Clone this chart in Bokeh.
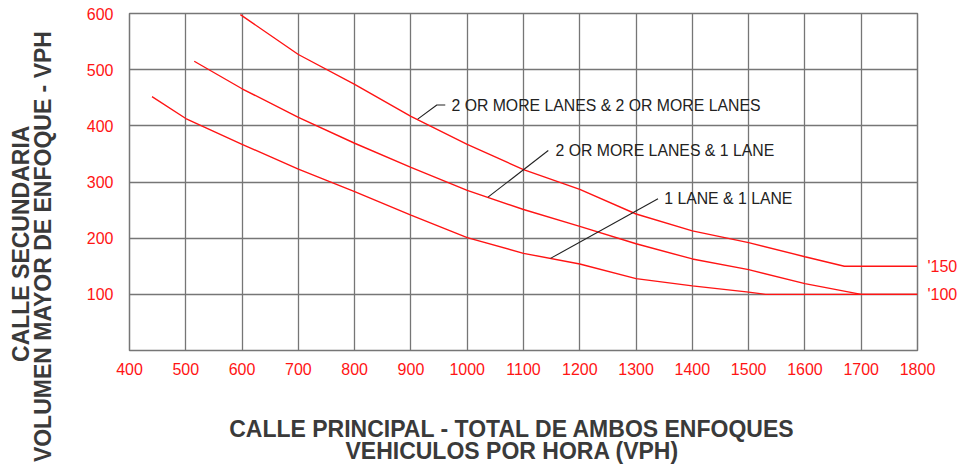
from bokeh.plotting import figure
from bokeh.models import Range1d, FixedTicker, LinearAxis, Label
from bokeh.embed import file_html
from bokeh.resources import INLINE

# ---- data ----
x_ticks = [400, 500, 600, 700, 800, 900, 1000, 1100, 1200, 1300, 1400, 1500, 1600, 1700, 1800]
y_ticks = [100, 200, 300, 400, 500, 600]

# 2 OR MORE LANES & 2 OR MORE LANES
top_x = [597, 700, 800, 900, 1000, 1100, 1200, 1300, 1400, 1500, 1600, 1670, 1800]
top_y = [598, 527, 474, 417, 367, 322, 287, 243, 213, 192, 167, 150, 150]

# 2 OR MORE LANES & 1 LANE
mid_x = [515, 600, 700, 800, 900, 1000, 1100, 1200, 1300, 1400, 1500, 1600, 1700, 1800]
mid_y = [515, 466, 415, 369, 326, 285, 251, 221, 190, 163, 144, 119, 100, 100]

# 1 LANE & 1 LANE
low_x = [440, 500, 600, 700, 800, 900, 1000, 1100, 1200, 1300, 1400, 1500, 1530, 1800]
low_y = [452, 413, 367, 323, 283, 241, 201, 173, 154, 128, 115, 104, 100, 100]

series_labels = ["2 OR MORE LANES & 2 OR MORE LANES", "2 OR MORE LANES & 1 LANE", "1 LANE & 1 LANE"]
end_values = [100, 150]
end_labels = ["'100", "'150"]

x_title = ["CALLE PRINCIPAL - TOTAL DE AMBOS ENFOQUES", "VEHICULOS POR HORA (VPH)"]
y_title = ["CALLE SECUNDARIA", "VOLUMEN MAYOR DE ENFOQUE - VPH"]

RED = "#ff1414"
GRID = "#767676"
DARK = "#3a3a3a"
FONT = "Liberation Sans"

p = figure(width=963, height=468, x_range=Range1d(400, 1800), y_range=Range1d(0, 600),
           output_backend="svg", toolbar_location=None,
           min_border_left=129, min_border_right=46, min_border_top=13, min_border_bottom=118)

p.background_fill_color = "white"
p.border_fill_color = "white"
p.outline_line_color = GRID
p.outline_line_width = 1.5

p.xaxis.ticker = FixedTicker(ticks=x_ticks)
p.yaxis.ticker = FixedTicker(ticks=y_ticks)
p.xgrid.ticker = FixedTicker(ticks=x_ticks)
p.ygrid.ticker = FixedTicker(ticks=y_ticks)
for g in (p.xgrid, p.ygrid):
    g.grid_line_color = GRID
    g.grid_line_width = 1.3
    g.grid_line_alpha = 1.0

right_axis = LinearAxis(ticker=FixedTicker(ticks=end_values),
                        major_label_overrides={v: t for v, t in zip(end_values, end_labels)})
p.add_layout(right_axis, "right")


def bare(ax):
    ax.axis_line_color = None
    ax.major_tick_line_color = None
    ax.minor_tick_line_color = None
    ax.major_tick_out = 0
    ax.major_tick_in = 0


for ax in (p.xaxis[0], p.yaxis[0], right_axis):
    bare(ax)
    ax.major_label_text_color = RED
    ax.major_label_text_font = FONT
    ax.major_label_text_font_size = "16px"
p.xaxis[0].major_label_standoff = 12
p.yaxis[0].major_label_standoff = 16
right_axis.major_label_standoff = 10

# axis titles, placed as single-tick axes so they sit outside the frame
X_TITLE_AT = 1080
Y_TITLE_AT = [190, 185]
for txt, sd in zip(x_title, [38, -7]):
    a = LinearAxis(ticker=FixedTicker(ticks=[X_TITLE_AT]),
                   major_label_overrides={X_TITLE_AT: txt})
    bare(a)
    a.major_label_standoff = sd
    a.major_label_text_font = FONT
    a.major_label_text_font_size = "23px"
    a.major_label_text_font_style = "bold"
    a.major_label_text_color = DARK
    p.add_layout(a, "below")

for txt, at, sd in zip(reversed(y_title), reversed(Y_TITLE_AT), [27, -7]):
    a = LinearAxis(ticker=FixedTicker(ticks=[at]), major_label_overrides={at: txt})
    bare(a)
    a.major_label_orientation = "vertical"
    a.major_label_standoff = sd
    a.major_label_text_font = FONT
    a.major_label_text_font_size = "23px"
    a.major_label_text_font_style = "bold"
    a.major_label_text_color = DARK
    p.add_layout(a, "left")

for xs, ys in ((top_x, top_y), (mid_x, mid_y), (low_x, low_y)):
    p.line(xs, ys, line_color=RED, line_width=1.4)

# leader lines
p.line([912, 946, 961], [412, 437, 437], line_color="#222222", line_width=1.1)
p.line([1037, 1144], [273, 356], line_color="#222222", line_width=1.1)
p.line([1148, 1339], [164, 270], line_color="#222222", line_width=1.1)

label_pos = [(972, 437), (1157, 356), (1350, 270)]
for txt, (lx, ly) in zip(series_labels, label_pos):
    p.add_layout(Label(x=lx, y=ly, text=txt, text_font=FONT, text_font_size="15.8px",
                       text_color="#222222", text_baseline="middle", text_align="left"))

open("out.html", "w").write(file_html(p, INLINE))
